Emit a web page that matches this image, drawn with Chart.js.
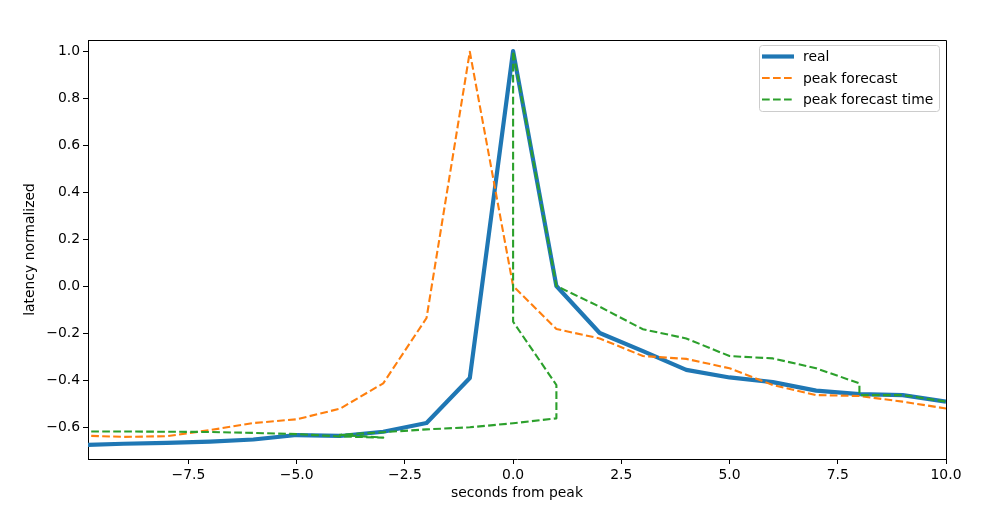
<!DOCTYPE html>
<html>
<head>
<meta charset="utf-8">
<script src="https://cdn.jsdelivr.net/npm/chart.js@4/dist/chart.umd.min.js"></script>
<style>
  html, body { margin: 0; padding: 0; background: #fff; }
  #wrap { width: 986px; height: 509px; }
</style>
</head>
<body>
<div id="wrap"><canvas id="chart" width="986" height="509"></canvas></div>
<script>
// seconds from peak
var seconds = [-10, -9, -8, -7, -6, -5, -4, -3, -2, -1, 0, 1, 2, 3, 4, 5, 6, 7, 8, 9, 10];

var real = [-0.677, -0.671, -0.667, -0.662, -0.653, -0.634, -0.638, -0.620, -0.583, -0.391,
            1.0, 0.0, -0.200, -0.277, -0.357, -0.389, -0.409, -0.445, -0.460, -0.464, -0.492];

var peak_forecast = [-0.636, -0.642, -0.639, -0.613, -0.583, -0.567, -0.522, -0.414, -0.136, 0.997,
                     0.0, -0.183, -0.223, -0.298, -0.310, -0.350, -0.421, -0.464, -0.468, -0.492, -0.521];

// forecast time goes back and forth, so it keeps its own x list
var forecast_time_x = [-10, -9, -8, -7, -6, -5, -4, -3, -4, -3, -2, -1, 0, 1, 1, 0, 0, 1,
                       2, 3, 4, 5, 6, 7, 8, 8, 9, 10];
var forecast_time_y = [-0.619, -0.619, -0.620, -0.621, -0.625, -0.630, -0.640, -0.645, -0.633, -0.622,
                       -0.610, -0.601, -0.584, -0.563, -0.421, -0.152, 1.0, 0.0,
                       -0.088, -0.184, -0.223, -0.298, -0.308, -0.350, -0.414, -0.464, -0.464, -0.492];

var x_ticks = [-7.5, -5.0, -2.5, 0.0, 2.5, 5.0, 7.5, 10.0];
var y_ticks = [-0.6, -0.4, -0.2, 0.0, 0.2, 0.4, 0.6, 0.8, 1.0];

function to_points(xs, ys){
    var pts = [];
    for (let i = 0; i < xs.length; i++){
        pts.push({x: xs[i], y: ys[i]});
    }
    return pts;
}

function fmt(v){
    var s = Math.abs(v) < 1e-9 ? "0.0" : v.toFixed(1);
    return s.replace("-", "\u2212");
}

var FONT = "'DejaVu Sans', sans-serif";
var FSIZE = 13.9;

// top and right spines, like matplotlib's full frame
var frame = {
    id: "frame",
    afterDatasetsDraw: function(chart){
        var a = chart.chartArea;
        var ctx = chart.ctx;
        ctx.save();
        ctx.strokeStyle = "#000";
        ctx.lineWidth = 1;
        ctx.beginPath();
        ctx.moveTo(a.left, a.top + 0.5);
        ctx.lineTo(a.right + 0.5, a.top + 0.5);
        ctx.lineTo(a.right + 0.5, a.bottom);
        ctx.stroke();
        ctx.restore();
    }
};

// matplotlib style legend inside the axes, upper right
var legend_box = {
    id: "legend_box",
    afterDraw: function(chart){
        var ctx = chart.ctx;
        var x0 = 759.5, y0 = 45.5, w = 180, h = 66, r = 3;
        ctx.save();
        ctx.beginPath();
        ctx.roundRect(x0, y0, w, h, r);
        ctx.fillStyle = "rgba(255,255,255,0.8)";
        ctx.fill();
        ctx.strokeStyle = "#cccccc";
        ctx.lineWidth = 1;
        ctx.stroke();

        var rows = [56.5, 78, 99.5];
        var sets = chart.data.datasets;
        for (let i = 0; i < sets.length; i++){
            var ds = sets[i];
            ctx.beginPath();
            ctx.setLineDash(ds.borderDash || []);
            ctx.lineWidth = ds.borderWidth;
            ctx.strokeStyle = ds.borderColor;
            ctx.moveTo(762, rows[i]);
            ctx.lineTo(794, rows[i]);
            ctx.stroke();
            ctx.setLineDash([]);
            ctx.fillStyle = "#000";
            ctx.font = FSIZE + "px " + FONT;
            ctx.textBaseline = "middle";
            ctx.textAlign = "left";
            ctx.fillText(ds.label, 803, rows[i] + 1);
        }
        ctx.restore();
    }
};

var config = {
    type: "scatter",
    data: {
        datasets: [
            {
                label: "real",
                data: to_points(seconds, real),
                showLine: true,
                borderColor: "#1f77b4",
                backgroundColor: "#1f77b4",
                borderWidth: 4.2,
                borderJoinStyle: "round",
                pointRadius: 0,
                order: 3,
                clip: 0
            },
            {
                label: "peak forecast",
                data: to_points(seconds, peak_forecast),
                showLine: true,
                borderColor: "#ff7f0e",
                backgroundColor: "#ff7f0e",
                borderWidth: 2.1,
                borderDash: [7.7, 3.3],
                borderJoinStyle: "round",
                pointRadius: 0,
                order: 2,
                clip: 0
            },
            {
                label: "peak forecast time",
                data: to_points(forecast_time_x, forecast_time_y),
                showLine: true,
                borderColor: "#2ca02c",
                backgroundColor: "#2ca02c",
                borderWidth: 2.1,
                borderDash: [7.7, 3.3],
                borderJoinStyle: "round",
                pointRadius: 0,
                order: 1,
                clip: 0
            }
        ]
    },
    options: {
        responsive: false,
        animation: false,
        layout: { padding: { top: 40, right: 40, left: 22, bottom: 7 } },
        plugins: {
            legend: { display: false },
            tooltip: { enabled: false }
        },
        scales: {
            x: {
                type: "linear",
                min: -9.82,
                max: 10,
                afterBuildTicks: function(axis){
                    axis.ticks = x_ticks.map(function(v){ return {value: v}; });
                },
                afterFit: function(axis){ axis.height = 43; },
                grid: {
                    drawOnChartArea: false,
                    tickLength: 5,
                    tickColor: "#000",
                    tickWidth: 1
                },
                border: { color: "#000", width: 1 },
                ticks: {
                    color: "#000",
                    padding: 3,
                    maxRotation: 0,
                    font: { family: FONT, size: FSIZE },
                    callback: function(v){ return fmt(v); }
                },
                title: {
                    display: true,
                    text: "seconds from peak",
                    color: "#000",
                    padding: 0,
                    font: { family: FONT, size: FSIZE }
                }
            },
            y: {
                type: "linear",
                min: -0.736,
                max: 1.047,
                afterBuildTicks: function(axis){
                    axis.ticks = y_ticks.map(function(v){ return {value: v}; });
                },
                afterFit: function(axis){ axis.width = 66; },
                grid: {
                    drawOnChartArea: false,
                    tickLength: 5,
                    tickColor: "#000",
                    tickWidth: 1
                },
                border: { color: "#000", width: 1 },
                ticks: {
                    color: "#000",
                    padding: 3,
                    font: { family: FONT, size: FSIZE },
                    callback: function(v){ return fmt(v); }
                },
                title: {
                    display: true,
                    text: "latency normalized",
                    color: "#000",
                    padding: 0,
                    font: { family: FONT, size: FSIZE }
                }
            }
        }
    },
    plugins: [frame, legend_box]
};

var chart = new Chart(document.getElementById("chart"), config);
</script>
</body>
</html>
